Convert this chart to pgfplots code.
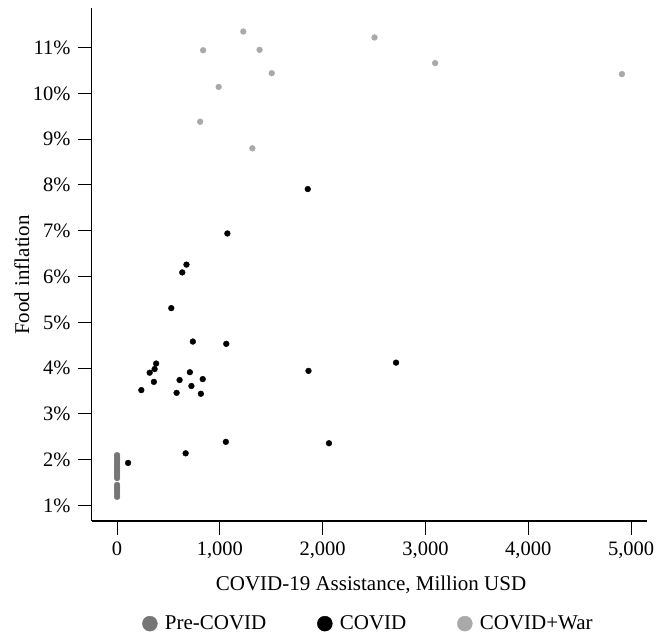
\documentclass[border=0pt]{standalone}
\usepackage{pgfplots}
\pgfplotsset{compat=1.18}
\usepackage{fontspec}
\setmainfont{Liberation Serif}

\definecolor{preC}{HTML}{767676}
\definecolor{warC}{HTML}{A9A9A9}

\begin{document}
\fontsize{21}{25}\selectfont
\begin{tikzpicture}[x=1pt,y=1pt]
\begin{axis}[
  anchor=south west,
  scale only axis, width=555.3pt, height=513.3pt,
  xmin=-247, xmax=5155, ymin=0.662, ymax=11.87,
  axis x line*=bottom, axis y line*=left,
  axis line style={line width=1.4pt, black},
  tick align=outside, major tick length=14pt,
  tick style={line width=1.1pt, black},
  xtick={0,1000,2000,3000,4000,5000},
  ytick={1,2,...,11},
  scaled x ticks=false,
  tick label style={font=\fontsize{20.5}{24}\selectfont},
  /pgf/number format/assume math mode=true,
  /pgf/number format/1000 sep={,},
  yticklabel={\pgfmathprintnumber{\tick}\%},
  xlabel={COVID-19 Assistance, Million USD},
  ylabel={Food inflation},
  every axis x label/.style={at={(axis description cs:0.503,-0.125)}, anchor=center},
  every axis y label/.style={at={(axis description cs:-0.126,0.479)}, anchor=center, rotate=90},
  legend style={at={(axis description cs:0.4985,-0.2)}, anchor=center, draw=none, fill=none,
    legend columns=-1,
    /tikz/every odd column/.append style={column sep=5.5pt},
    /tikz/every even column/.append style={column sep=49pt}},
  legend cell align=left,
  legend image post style={mark size=7.5pt},
]
% before the pandemic: no assistance
\addplot[only marks, mark=*, mark size=2.9pt, color=preC] table {
x y
0 2.10
0 2.05
0 2.00
0 1.95
0 1.90
0 1.85
0 1.80
0 1.75
0 1.70
0 1.65
0 1.60
0 1.45
0 1.40
0 1.35
0 1.30
0 1.25
0 1.19
};
\addlegendentry{Pre-COVID}
% pandemic years
\addplot[only marks, mark=*, mark size=2.9pt, color=black] table {
x y
1855 7.91
1073 6.94
675 6.26
634 6.09
527 5.31
737 4.58
1062 4.53
2714 4.12
380 4.10
365 3.98
317 3.90
708 3.91
1862 3.94
833 3.76
608 3.74
358 3.70
723 3.61
236 3.52
579 3.46
815 3.44
1058 2.39
2061 2.36
667 2.14
107 1.93
};
\addlegendentry{COVID}
% pandemic and war
\addplot[only marks, mark=*, mark size=2.9pt, color=warC] table {
x y
1228 11.35
2504 11.22
837 10.94
1386 10.95
3094 10.66
1504 10.44
4911 10.42
988 10.14
808 9.38
1316 8.80
};
\addlegendentry{COVID+War}
\end{axis}
\pgfresetboundingbox
\path[use as bounding box] (-91.7,-118) rectangle (578.3,521);
\end{tikzpicture}
\end{document}
